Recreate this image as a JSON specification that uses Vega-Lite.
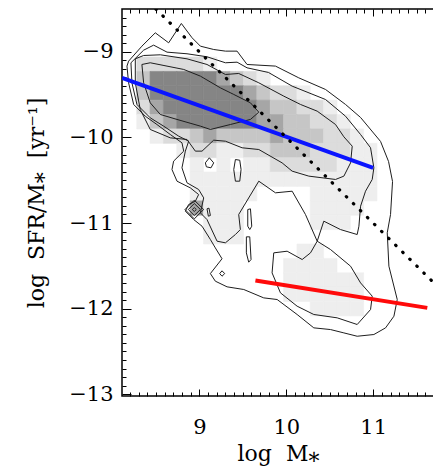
{
  "$schema": "https://vega.github.io/schema/vega-lite/v6.json",
  "width": 312,
  "height": 387,
  "autosize": {"type": "none"},
  "padding": {"left": 122, "top": 9, "right": 0, "bottom": 76},
  "background": "white",
  "config": {
    "view": {"stroke": "#000", "strokeWidth": 1.5},
    "font": "DejaVu Serif",
    "axis": {
      "grid": false, "domain": false,
      "labelFont": "DejaVu Serif", "titleFont": "DejaVu Serif",
      "labelColor": "#000", "titleColor": "#000", "tickColor": "#000",
      "titleFontWeight": "normal", "tickWidth": 1
    }
  },
  "datasets": {
    "cells": [
      {"logM":8.274,"ssfr":-9.223,"n":2},{"logM":8.427,"ssfr":-9.223,"n":2},{"logM":8.581,"ssfr":-9.223,"n":2},{"logM":8.734,"ssfr":-9.223,"n":2},{"logM":8.888,"ssfr":-9.223,"n":2},{"logM":9.042,"ssfr":-9.223,"n":1},
      {"logM":8.274,"ssfr":-9.391,"n":3},{"logM":8.427,"ssfr":-9.391,"n":5},{"logM":8.581,"ssfr":-9.391,"n":5},{"logM":8.734,"ssfr":-9.391,"n":5},{"logM":8.888,"ssfr":-9.391,"n":5},{"logM":9.042,"ssfr":-9.391,"n":5},{"logM":9.195,"ssfr":-9.391,"n":4},{"logM":9.349,"ssfr":-9.391,"n":3},{"logM":9.502,"ssfr":-9.391,"n":2},{"logM":9.656,"ssfr":-9.391,"n":1},
      {"logM":8.274,"ssfr":-9.559,"n":3},{"logM":8.427,"ssfr":-9.559,"n":5},{"logM":8.581,"ssfr":-9.559,"n":5},{"logM":8.734,"ssfr":-9.559,"n":5},{"logM":8.888,"ssfr":-9.559,"n":5},{"logM":9.042,"ssfr":-9.559,"n":5},{"logM":9.195,"ssfr":-9.559,"n":5},{"logM":9.349,"ssfr":-9.559,"n":5},{"logM":9.502,"ssfr":-9.559,"n":4},{"logM":9.656,"ssfr":-9.559,"n":3},{"logM":9.81,"ssfr":-9.559,"n":2},{"logM":9.963,"ssfr":-9.559,"n":2},{"logM":10.117,"ssfr":-9.559,"n":1},
      {"logM":8.274,"ssfr":-9.727,"n":2},{"logM":8.427,"ssfr":-9.727,"n":4},{"logM":8.581,"ssfr":-9.727,"n":5},{"logM":8.734,"ssfr":-9.727,"n":5},{"logM":8.888,"ssfr":-9.727,"n":5},{"logM":9.042,"ssfr":-9.727,"n":5},{"logM":9.195,"ssfr":-9.727,"n":5},{"logM":9.349,"ssfr":-9.727,"n":5},{"logM":9.502,"ssfr":-9.727,"n":5},{"logM":9.656,"ssfr":-9.727,"n":4},{"logM":9.81,"ssfr":-9.727,"n":3},{"logM":9.963,"ssfr":-9.727,"n":3},{"logM":10.117,"ssfr":-9.727,"n":2},{"logM":10.27,"ssfr":-9.727,"n":2},{"logM":10.424,"ssfr":-9.727,"n":1},
      {"logM":8.274,"ssfr":-9.895,"n":1},{"logM":8.427,"ssfr":-9.895,"n":3},{"logM":8.581,"ssfr":-9.895,"n":4},{"logM":8.734,"ssfr":-9.895,"n":5},{"logM":8.888,"ssfr":-9.895,"n":5},{"logM":9.042,"ssfr":-9.895,"n":5},{"logM":9.195,"ssfr":-9.895,"n":5},{"logM":9.349,"ssfr":-9.895,"n":5},{"logM":9.502,"ssfr":-9.895,"n":5},{"logM":9.656,"ssfr":-9.895,"n":4},{"logM":9.81,"ssfr":-9.895,"n":4},{"logM":9.963,"ssfr":-9.895,"n":3},{"logM":10.117,"ssfr":-9.895,"n":3},{"logM":10.27,"ssfr":-9.895,"n":2},{"logM":10.424,"ssfr":-9.895,"n":2},{"logM":10.578,"ssfr":-9.895,"n":1},
      {"logM":8.427,"ssfr":-10.063,"n":1},{"logM":8.581,"ssfr":-10.063,"n":2},{"logM":8.734,"ssfr":-10.063,"n":2},{"logM":8.888,"ssfr":-10.063,"n":3},{"logM":9.042,"ssfr":-10.063,"n":4},{"logM":9.195,"ssfr":-10.063,"n":3},{"logM":9.349,"ssfr":-10.063,"n":3},{"logM":9.502,"ssfr":-10.063,"n":3},{"logM":9.656,"ssfr":-10.063,"n":3},{"logM":9.81,"ssfr":-10.063,"n":4},{"logM":9.963,"ssfr":-10.063,"n":3},{"logM":10.117,"ssfr":-10.063,"n":3},{"logM":10.27,"ssfr":-10.063,"n":3},{"logM":10.424,"ssfr":-10.063,"n":2},{"logM":10.578,"ssfr":-10.063,"n":2},{"logM":10.731,"ssfr":-10.063,"n":1},
      {"logM":8.734,"ssfr":-10.231,"n":1},{"logM":8.888,"ssfr":-10.231,"n":2},{"logM":9.042,"ssfr":-10.231,"n":2},{"logM":9.195,"ssfr":-10.231,"n":1},{"logM":9.349,"ssfr":-10.231,"n":1},{"logM":9.502,"ssfr":-10.231,"n":2},{"logM":9.656,"ssfr":-10.231,"n":2},{"logM":9.81,"ssfr":-10.231,"n":3},{"logM":9.963,"ssfr":-10.231,"n":3},{"logM":10.117,"ssfr":-10.231,"n":3},{"logM":10.27,"ssfr":-10.231,"n":2},{"logM":10.424,"ssfr":-10.231,"n":2},{"logM":10.578,"ssfr":-10.231,"n":2},{"logM":10.731,"ssfr":-10.231,"n":1},{"logM":10.885,"ssfr":-10.231,"n":1},
      {"logM":8.888,"ssfr":-10.399,"n":1},{"logM":9.195,"ssfr":-10.399,"n":1},{"logM":9.502,"ssfr":-10.399,"n":1},{"logM":9.656,"ssfr":-10.399,"n":1},{"logM":9.81,"ssfr":-10.399,"n":2},{"logM":9.963,"ssfr":-10.399,"n":2},{"logM":10.117,"ssfr":-10.399,"n":2},{"logM":10.27,"ssfr":-10.399,"n":2},{"logM":10.424,"ssfr":-10.399,"n":2},{"logM":10.578,"ssfr":-10.399,"n":1},{"logM":10.731,"ssfr":-10.399,"n":1},{"logM":10.885,"ssfr":-10.399,"n":1},
      {"logM":8.888,"ssfr":-10.567,"n":1},{"logM":9.042,"ssfr":-10.567,"n":1},{"logM":9.195,"ssfr":-10.567,"n":1},{"logM":9.349,"ssfr":-10.567,"n":1},{"logM":9.502,"ssfr":-10.567,"n":1},{"logM":9.656,"ssfr":-10.567,"n":1},{"logM":9.81,"ssfr":-10.567,"n":1},{"logM":9.963,"ssfr":-10.567,"n":1},{"logM":10.117,"ssfr":-10.567,"n":1},{"logM":10.27,"ssfr":-10.567,"n":1},{"logM":10.424,"ssfr":-10.567,"n":1},{"logM":10.578,"ssfr":-10.567,"n":1},{"logM":10.731,"ssfr":-10.567,"n":1},{"logM":10.885,"ssfr":-10.567,"n":1},
      {"logM":8.888,"ssfr":-10.735,"n":1},{"logM":9.042,"ssfr":-10.735,"n":1},{"logM":9.195,"ssfr":-10.735,"n":1},{"logM":9.349,"ssfr":-10.735,"n":1},{"logM":9.502,"ssfr":-10.735,"n":1},{"logM":10.27,"ssfr":-10.735,"n":1},{"logM":10.424,"ssfr":-10.735,"n":1},{"logM":10.578,"ssfr":-10.735,"n":1},{"logM":10.731,"ssfr":-10.735,"n":1},{"logM":10.885,"ssfr":-10.735,"n":1},
      {"logM":8.888,"ssfr":-10.903,"n":4},{"logM":9.042,"ssfr":-10.903,"n":1},{"logM":9.195,"ssfr":-10.903,"n":1},{"logM":9.349,"ssfr":-10.903,"n":1},{"logM":10.27,"ssfr":-10.903,"n":1},{"logM":10.424,"ssfr":-10.903,"n":1},{"logM":10.578,"ssfr":-10.903,"n":1},{"logM":10.731,"ssfr":-10.903,"n":1},
      {"logM":9.042,"ssfr":-11.071,"n":1},{"logM":9.195,"ssfr":-11.071,"n":1},{"logM":9.349,"ssfr":-11.071,"n":1},{"logM":10.27,"ssfr":-11.071,"n":1},{"logM":10.424,"ssfr":-11.071,"n":1},{"logM":10.578,"ssfr":-11.071,"n":1},
      {"logM":9.042,"ssfr":-11.239,"n":1},{"logM":9.195,"ssfr":-11.239,"n":1},{"logM":9.349,"ssfr":-11.239,"n":1},
      {"logM":10.117,"ssfr":-11.407,"n":1},{"logM":10.27,"ssfr":-11.407,"n":1},
      {"logM":9.963,"ssfr":-11.575,"n":1},{"logM":10.117,"ssfr":-11.575,"n":1},{"logM":10.27,"ssfr":-11.575,"n":1},{"logM":10.424,"ssfr":-11.575,"n":1},
      {"logM":9.963,"ssfr":-11.743,"n":1},{"logM":10.117,"ssfr":-11.743,"n":1},{"logM":10.27,"ssfr":-11.743,"n":1},{"logM":10.424,"ssfr":-11.743,"n":1},{"logM":10.578,"ssfr":-11.743,"n":1},{"logM":10.731,"ssfr":-11.743,"n":1},
      {"logM":9.963,"ssfr":-11.911,"n":1},{"logM":10.117,"ssfr":-11.911,"n":1},{"logM":10.27,"ssfr":-11.911,"n":1},{"logM":10.424,"ssfr":-11.911,"n":1},{"logM":10.578,"ssfr":-11.911,"n":1},{"logM":10.731,"ssfr":-11.911,"n":1},
      {"logM":10.27,"ssfr":-12.079,"n":1},{"logM":10.424,"ssfr":-12.079,"n":1},{"logM":10.578,"ssfr":-12.079,"n":1},{"logM":10.731,"ssfr":-12.079,"n":1}
    ],
    "contours_outer": [
      {"c":"L1","k":1,"logM":8.186,"ssfr":-9.109},{"c":"L1","k":2,"logM":8.339,"ssfr":-8.934},{"c":"L1","k":3,"logM":8.493,"ssfr":-8.778},{"c":"L1","k":4,"logM":8.647,"ssfr":-8.895},{"c":"L1","k":5,"logM":8.793,"ssfr":-8.669},{"c":"L1","k":6,"logM":8.916,"ssfr":-8.836},{"c":"L1","k":7,"logM":9.012,"ssfr":-8.934},{"c":"L1","k":8,"logM":9.165,"ssfr":-8.973},{"c":"L1","k":9,"logM":9.3,"ssfr":-8.992},{"c":"L1","k":10,"logM":9.434,"ssfr":-8.992},
      {"c":"L1","k":11,"logM":9.549,"ssfr":-9.148},{"c":"L1","k":12,"logM":9.876,"ssfr":-9.167},{"c":"L1","k":13,"logM":10.144,"ssfr":-9.304},{"c":"L1","k":14,"logM":10.452,"ssfr":-9.44},{"c":"L1","k":15,"logM":10.682,"ssfr":-9.615},{"c":"L1","k":16,"logM":10.855,"ssfr":-9.767},{"c":"L1","k":17,"logM":11.085,"ssfr":-10.047},{"c":"L1","k":18,"logM":11.177,"ssfr":-10.281},{"c":"L1","k":19,"logM":11.223,"ssfr":-10.515},{"c":"L1","k":20,"logM":11.2,"ssfr":-10.9},
      {"c":"L1","k":21,"logM":11.162,"ssfr":-11.114},{"c":"L1","k":22,"logM":11.181,"ssfr":-11.504},{"c":"L1","k":23,"logM":11.277,"ssfr":-11.893},{"c":"L1","k":24,"logM":11.239,"ssfr":-12.088},{"c":"L1","k":25,"logM":11.143,"ssfr":-12.224},{"c":"L1","k":26,"logM":11.008,"ssfr":-12.302},{"c":"L1","k":27,"logM":10.816,"ssfr":-12.322},{"c":"L1","k":28,"logM":10.663,"ssfr":-12.283},{"c":"L1","k":29,"logM":10.509,"ssfr":-12.244},{"c":"L1","k":30,"logM":10.317,"ssfr":-12.224},
      {"c":"L1","k":31,"logM":10.125,"ssfr":-12.068},{"c":"L1","k":32,"logM":9.895,"ssfr":-11.893},{"c":"L1","k":33,"logM":9.741,"ssfr":-11.874},{"c":"L1","k":34,"logM":9.511,"ssfr":-11.776},{"c":"L1","k":35,"logM":9.319,"ssfr":-11.745},{"c":"L1","k":36,"logM":9.184,"ssfr":-11.679},{"c":"L1","k":37,"logM":9.127,"ssfr":-11.59},{"c":"L1","k":38,"logM":9.261,"ssfr":-11.417},{"c":"L1","k":39,"logM":9.184,"ssfr":-11.29},{"c":"L1","k":40,"logM":9.127,"ssfr":-11.192},
      {"c":"L1","k":41,"logM":9.031,"ssfr":-11.037},{"c":"L1","k":42,"logM":8.935,"ssfr":-10.959},{"c":"L1","k":43,"logM":8.839,"ssfr":-10.861},{"c":"L1","k":44,"logM":8.877,"ssfr":-10.783},{"c":"L1","k":45,"logM":8.954,"ssfr":-10.745},{"c":"L1","k":46,"logM":8.992,"ssfr":-10.667},{"c":"L1","k":47,"logM":8.896,"ssfr":-10.589},{"c":"L1","k":48,"logM":8.743,"ssfr":-10.511},{"c":"L1","k":49,"logM":8.685,"ssfr":-10.375},{"c":"L1","k":50,"logM":8.704,"ssfr":-10.277},
      {"c":"L1","k":51,"logM":8.82,"ssfr":-10.16},{"c":"L1","k":52,"logM":8.8,"ssfr":-10.063},{"c":"L1","k":53,"logM":8.666,"ssfr":-9.966},{"c":"L1","k":54,"logM":8.512,"ssfr":-9.849},{"c":"L1","k":55,"logM":8.378,"ssfr":-9.752},{"c":"L1","k":56,"logM":8.244,"ssfr":-9.615},{"c":"L1","k":57,"logM":8.186,"ssfr":-9.362},{"c":"L1","k":58,"logM":8.167,"ssfr":-9.167},{"c":"L1","k":59,"logM":8.186,"ssfr":-9.109},
      {"c":"L2","k":1,"logM":8.213,"ssfr":-9.128},{"c":"L2","k":2,"logM":8.359,"ssfr":-8.981},{"c":"L2","k":3,"logM":8.474,"ssfr":-8.922},{"c":"L2","k":4,"logM":8.628,"ssfr":-9.004},{"c":"L2","k":5,"logM":8.858,"ssfr":-9.023},{"c":"L2","k":6,"logM":9.088,"ssfr":-9.058},{"c":"L2","k":7,"logM":9.3,"ssfr":-9.128},{"c":"L2","k":8,"logM":9.434,"ssfr":-9.121},{"c":"L2","k":9,"logM":9.549,"ssfr":-9.187},{"c":"L2","k":10,"logM":9.795,"ssfr":-9.241},
      {"c":"L2","k":11,"logM":10.068,"ssfr":-9.401},{"c":"L2","k":12,"logM":10.452,"ssfr":-9.557},{"c":"L2","k":13,"logM":10.682,"ssfr":-9.752},{"c":"L2","k":14,"logM":10.855,"ssfr":-9.966},{"c":"L2","k":15,"logM":10.97,"ssfr":-10.121},{"c":"L2","k":16,"logM":11.008,"ssfr":-10.355},{"c":"L2","k":17,"logM":10.989,"ssfr":-10.491},{"c":"L2","k":18,"logM":10.912,"ssfr":-10.628},{"c":"L2","k":19,"logM":10.855,"ssfr":-10.803},{"c":"L2","k":20,"logM":10.836,"ssfr":-11.037},
      {"c":"L2","k":21,"logM":10.816,"ssfr":-11.134},{"c":"L2","k":22,"logM":10.624,"ssfr":-11.076},{"c":"L2","k":23,"logM":10.432,"ssfr":-10.978},{"c":"L2","k":24,"logM":10.356,"ssfr":-11.212},{"c":"L2","k":25,"logM":10.279,"ssfr":-11.348},{"c":"L2","k":26,"logM":10.183,"ssfr":-11.426},{"c":"L2","k":27,"logM":10.01,"ssfr":-11.329},{"c":"L2","k":28,"logM":9.856,"ssfr":-11.348},{"c":"L2","k":29,"logM":9.837,"ssfr":-11.582},{"c":"L2","k":30,"logM":9.933,"ssfr":-11.815},
      {"c":"L2","k":31,"logM":10.125,"ssfr":-11.971},{"c":"L2","k":32,"logM":10.317,"ssfr":-12.068},{"c":"L2","k":33,"logM":10.586,"ssfr":-12.107},{"c":"L2","k":34,"logM":10.816,"ssfr":-12.185},{"c":"L2","k":35,"logM":10.97,"ssfr":-12.01},{"c":"L2","k":36,"logM":10.989,"ssfr":-11.854},{"c":"L2","k":37,"logM":10.855,"ssfr":-11.699},{"c":"L2","k":38,"logM":10.74,"ssfr":-11.504},{"c":"L2","k":39,"logM":10.509,"ssfr":-11.309},{"c":"L2","k":40,"logM":10.356,"ssfr":-11.212},
      {"c":"L2","k":41,"logM":10.221,"ssfr":-10.9},{"c":"L2","k":42,"logM":10.068,"ssfr":-10.628},{"c":"L2","k":43,"logM":9.876,"ssfr":-10.647},{"c":"L2","k":44,"logM":9.684,"ssfr":-10.511},{"c":"L2","k":45,"logM":9.453,"ssfr":-10.9},{"c":"L2","k":46,"logM":9.472,"ssfr":-11.076},{"c":"L2","k":47,"logM":9.415,"ssfr":-11.134},{"c":"L2","k":48,"logM":9.3,"ssfr":-11.231},{"c":"L2","k":49,"logM":9.204,"ssfr":-11.212},{"c":"L2","k":50,"logM":9.088,"ssfr":-10.959},
      {"c":"L2","k":51,"logM":9.012,"ssfr":-10.881},{"c":"L2","k":52,"logM":9.05,"ssfr":-10.706},{"c":"L2","k":53,"logM":8.992,"ssfr":-10.608},{"c":"L2","k":54,"logM":8.858,"ssfr":-10.53},{"c":"L2","k":55,"logM":8.8,"ssfr":-10.355},{"c":"L2","k":56,"logM":8.839,"ssfr":-10.16},{"c":"L2","k":57,"logM":8.877,"ssfr":-10.044},{"c":"L2","k":58,"logM":8.762,"ssfr":-9.985},{"c":"L2","k":59,"logM":8.589,"ssfr":-9.868},{"c":"L2","k":60,"logM":8.435,"ssfr":-9.771},
      {"c":"L2","k":61,"logM":8.282,"ssfr":-9.615},{"c":"L2","k":62,"logM":8.224,"ssfr":-9.362},{"c":"L2","k":63,"logM":8.213,"ssfr":-9.128}
    ],
    "contours_inner": [
      {"c":"L3","k":1,"logM":8.263,"ssfr":-9.082},{"c":"L3","k":2,"logM":8.359,"ssfr":-9.043},{"c":"L3","k":3,"logM":8.551,"ssfr":-9.035},{"c":"L3","k":4,"logM":8.858,"ssfr":-9.082},{"c":"L3","k":5,"logM":9.088,"ssfr":-9.148},{"c":"L3","k":6,"logM":9.3,"ssfr":-9.265},{"c":"L3","k":7,"logM":9.453,"ssfr":-9.253},{"c":"L3","k":8,"logM":9.684,"ssfr":-9.362},{"c":"L3","k":9,"logM":9.972,"ssfr":-9.518},{"c":"L3","k":10,"logM":10.164,"ssfr":-9.615},
      {"c":"L3","k":11,"logM":10.356,"ssfr":-9.693},{"c":"L3","k":12,"logM":10.567,"ssfr":-9.849},{"c":"L3","k":13,"logM":10.663,"ssfr":-9.993},{"c":"L3","k":14,"logM":10.759,"ssfr":-10.102},{"c":"L3","k":15,"logM":10.74,"ssfr":-10.297},{"c":"L3","k":16,"logM":10.663,"ssfr":-10.452},{"c":"L3","k":17,"logM":10.567,"ssfr":-10.491},{"c":"L3","k":18,"logM":10.26,"ssfr":-10.452},{"c":"L3","k":19,"logM":10.068,"ssfr":-10.394},{"c":"L3","k":20,"logM":9.952,"ssfr":-10.297},
      {"c":"L3","k":21,"logM":9.684,"ssfr":-10.141},{"c":"L3","k":22,"logM":9.492,"ssfr":-10.121},{"c":"L3","k":23,"logM":9.3,"ssfr":-10.044},{"c":"L3","k":24,"logM":9.165,"ssfr":-10.032},{"c":"L3","k":25,"logM":9.031,"ssfr":-10.16},{"c":"L3","k":26,"logM":8.954,"ssfr":-10.16},{"c":"L3","k":27,"logM":8.858,"ssfr":-10.024},{"c":"L3","k":28,"logM":8.666,"ssfr":-10.005},{"c":"L3","k":29,"logM":8.435,"ssfr":-9.907},{"c":"L3","k":30,"logM":8.32,"ssfr":-9.674},
      {"c":"L3","k":31,"logM":8.263,"ssfr":-9.362},{"c":"L3","k":32,"logM":8.263,"ssfr":-9.082},
      {"c":"L4","k":1,"logM":8.339,"ssfr":-9.148},{"c":"L4","k":2,"logM":8.435,"ssfr":-9.128},{"c":"L4","k":3,"logM":8.82,"ssfr":-9.206},{"c":"L4","k":4,"logM":9.012,"ssfr":-9.284},{"c":"L4","k":5,"logM":9.242,"ssfr":-9.421},{"c":"L4","k":6,"logM":9.396,"ssfr":-9.498},{"c":"L4","k":7,"logM":9.588,"ssfr":-9.596},{"c":"L4","k":8,"logM":9.684,"ssfr":-9.705},{"c":"L4","k":9,"logM":9.588,"ssfr":-9.79},{"c":"L4","k":10,"logM":9.357,"ssfr":-9.849},
      {"c":"L4","k":11,"logM":9.127,"ssfr":-9.907},{"c":"L4","k":12,"logM":9.012,"ssfr":-9.868},{"c":"L4","k":13,"logM":8.743,"ssfr":-9.79},{"c":"L4","k":14,"logM":8.551,"ssfr":-9.732},{"c":"L4","k":15,"logM":8.435,"ssfr":-9.596},{"c":"L4","k":16,"logM":8.359,"ssfr":-9.362},{"c":"L4","k":17,"logM":8.339,"ssfr":-9.148},
      {"c":"hA","k":1,"logM":9.069,"ssfr":-10.297},{"c":"hA","k":2,"logM":9.115,"ssfr":-10.238},{"c":"hA","k":3,"logM":9.165,"ssfr":-10.297},{"c":"hA","k":4,"logM":9.134,"ssfr":-10.355},{"c":"hA","k":5,"logM":9.081,"ssfr":-10.343},{"c":"hA","k":6,"logM":9.069,"ssfr":-10.297},
      {"c":"hB","k":1,"logM":9.415,"ssfr":-10.258},{"c":"hB","k":2,"logM":9.465,"ssfr":-10.266},{"c":"hB","k":3,"logM":9.48,"ssfr":-10.375},{"c":"hB","k":4,"logM":9.465,"ssfr":-10.511},{"c":"hB","k":5,"logM":9.415,"ssfr":-10.511},{"c":"hB","k":6,"logM":9.396,"ssfr":-10.375},{"c":"hB","k":7,"logM":9.415,"ssfr":-10.258},
      {"c":"hC","k":1,"logM":9.557,"ssfr":-10.842},{"c":"hC","k":2,"logM":9.588,"ssfr":-10.834},{"c":"hC","k":3,"logM":9.603,"ssfr":-11.037},{"c":"hC","k":4,"logM":9.58,"ssfr":-11.076},{"c":"hC","k":5,"logM":9.557,"ssfr":-11.037},{"c":"hC","k":6,"logM":9.557,"ssfr":-10.842},
      {"c":"hD","k":1,"logM":9.541,"ssfr":-11.161},{"c":"hD","k":2,"logM":9.58,"ssfr":-11.161},{"c":"hD","k":3,"logM":9.595,"ssfr":-11.426},{"c":"hD","k":4,"logM":9.568,"ssfr":-11.457},{"c":"hD","k":5,"logM":9.541,"ssfr":-11.348},{"c":"hD","k":6,"logM":9.541,"ssfr":-11.161},
      {"c":"hE","k":1,"logM":9.234,"ssfr":-11.59},{"c":"hE","k":2,"logM":9.261,"ssfr":-11.558},{"c":"hE","k":3,"logM":9.292,"ssfr":-11.59},{"c":"hE","k":4,"logM":9.261,"ssfr":-11.621},{"c":"hE","k":5,"logM":9.234,"ssfr":-11.59},
      {"c":"hF","k":1,"logM":9.088,"ssfr":-10.834},{"c":"hF","k":2,"logM":9.111,"ssfr":-10.826},{"c":"hF","k":3,"logM":9.127,"ssfr":-10.912},{"c":"hF","k":4,"logM":9.104,"ssfr":-10.92},{"c":"hF","k":5,"logM":9.088,"ssfr":-10.834},
      {"c":"pk1","k":1,"logM":8.835,"ssfr":-10.842},{"c":"pk1","k":2,"logM":8.942,"ssfr":-10.733},{"c":"pk1","k":3,"logM":9.05,"ssfr":-10.842},{"c":"pk1","k":4,"logM":8.942,"ssfr":-10.951},{"c":"pk1","k":5,"logM":8.835,"ssfr":-10.842},
      {"c":"pk2","k":1,"logM":8.873,"ssfr":-10.842},{"c":"pk2","k":2,"logM":8.942,"ssfr":-10.772},{"c":"pk2","k":3,"logM":9.012,"ssfr":-10.842},{"c":"pk2","k":4,"logM":8.942,"ssfr":-10.912},{"c":"pk2","k":5,"logM":8.873,"ssfr":-10.842},
      {"c":"pk3","k":1,"logM":8.919,"ssfr":-10.842},{"c":"pk3","k":2,"logM":8.942,"ssfr":-10.819},{"c":"pk3","k":3,"logM":8.965,"ssfr":-10.842},{"c":"pk3","k":4,"logM":8.942,"ssfr":-10.865},{"c":"pk3","k":5,"logM":8.919,"ssfr":-10.842}
    ],
    "sf_fit": [{"logM":8.11,"ssfr":-9.304},{"logM":11.0,"ssfr":-10.355}],
    "q_fit": [{"logM":9.645,"ssfr":-11.671},{"logM":11.623,"ssfr":-11.991}],
    "const_sfr": [{"logM":8.5,"ssfr":-8.5},{"logM":11.68,"ssfr":-11.68}]
  },
  "resolve": {"axis": {"x": "independent", "y": "independent"}},
  "layer": [
    {
      "data": {"name": "cells"},
      "mark": {"type": "rect", "clip": true, "strokeWidth": 0.6},
      "encoding": {
        "x": {"field": "logM", "type": "quantitative", "bin": {"binned": true, "step": 0.1536}, "scale": {"domain": [8.11, 11.7], "nice": false, "zero": false}, "axis": null},
        "y": {"field": "ssfr", "type": "quantitative", "bin": {"binned": true, "step": 0.168}, "scale": {"domain": [-13.02, -8.5], "nice": false, "zero": false}, "axis": null},
        "color": {"field": "n", "type": "ordinal", "scale": {"domain": [1, 2, 3, 4, 5], "range": ["#eeeeee", "#dcdcdc", "#c6c6c6", "#a6a6a6", "#858585"]}, "legend": null},
        "stroke": {"field": "n", "type": "ordinal", "scale": {"domain": [1, 2, 3, 4, 5], "range": ["#eeeeee", "#dcdcdc", "#c6c6c6", "#a6a6a6", "#858585"]}, "legend": null}
      }
    },
    {
      "data": {"name": "contours_outer"},
      "mark": {"type": "line", "clip": true, "color": "#1e1e1e", "strokeWidth": 1},
      "encoding": {
        "x": {"field": "logM", "type": "quantitative", "scale": {"domain": [8.11, 11.7], "nice": false, "zero": false},
              "axis": {"orient": "bottom", "values": [9, 10, 11], "format": "d", "ticks": false, "labelFontSize": 21, "labelPadding": 20, "title": "log\u00a0 M⁎", "titleFontSize": 22, "titlePadding": 6}},
        "y": {"field": "ssfr", "type": "quantitative", "scale": {"domain": [-13.02, -8.5], "nice": false, "zero": false},
              "axis": {"orient": "left", "values": [-9, -10, -11, -12, -13], "format": "d", "ticks": false, "labelFontSize": 21, "labelPadding": 9, "title": "log\u00a0 SFR/M⁎\u00a0 [yr⁻¹]", "titleFontSize": 22, "titlePadding": 20}},
        "detail": {"field": "c"},
        "order": {"field": "k", "type": "quantitative"}
      }
    },
    {
      "data": {"name": "contours_inner"},
      "mark": {"type": "line", "clip": true, "color": "#1e1e1e", "strokeWidth": 1},
      "encoding": {
        "x": {"field": "logM", "type": "quantitative", "scale": {"domain": [8.11, 11.7], "nice": false, "zero": false},
              "axis": {"orient": "bottom", "values": [9, 10, 11], "labels": false, "tickSize": 7, "offset": -7, "title": null}},
        "y": {"field": "ssfr", "type": "quantitative", "scale": {"domain": [-13.02, -8.5], "nice": false, "zero": false},
              "axis": {"orient": "left", "values": [-9, -10, -11, -12, -13], "labels": false, "tickSize": 9, "offset": -9, "title": null}},
        "detail": {"field": "c"},
        "order": {"field": "k", "type": "quantitative"}
      }
    },
    {
      "data": {"name": "sf_fit"},
      "mark": {"type": "line", "clip": true, "color": "#0a14ff", "strokeWidth": 4},
      "encoding": {
        "x": {"field": "logM", "type": "quantitative", "scale": {"domain": [8.11, 11.7], "nice": false, "zero": false},
              "axis": {"orient": "bottom", "values": [8.2, 8.3, 8.4, 8.5, 8.6, 8.7, 8.8, 8.9, 9.1, 9.2, 9.3, 9.4, 9.5, 9.6, 9.7, 9.8, 9.9, 10.1, 10.2, 10.3, 10.4, 10.5, 10.6, 10.7, 10.8, 10.9, 11.1, 11.2, 11.3, 11.4, 11.5, 11.6], "labels": false, "tickSize": 4, "offset": -4, "title": null}},
        "y": {"field": "ssfr", "type": "quantitative", "scale": {"domain": [-13.02, -8.5], "nice": false, "zero": false},
              "axis": {"orient": "left", "values": [-8.6, -8.7, -8.8, -8.9, -9.1, -9.2, -9.3, -9.4, -9.5, -9.6, -9.7, -9.8, -9.9, -10.1, -10.2, -10.3, -10.4, -10.5, -10.6, -10.7, -10.8, -10.9, -11.1, -11.2, -11.3, -11.4, -11.5, -11.6, -11.7, -11.8, -11.9, -12.1, -12.2, -12.3, -12.4, -12.5, -12.6, -12.7, -12.8, -12.9], "labels": false, "tickSize": 4, "offset": -4, "title": null}}
      }
    },
    {
      "data": {"name": "q_fit"},
      "mark": {"type": "line", "clip": true, "color": "#ff0a0a", "strokeWidth": 4},
      "encoding": {
        "x": {"field": "logM", "type": "quantitative", "scale": {"domain": [8.11, 11.7], "nice": false, "zero": false},
              "axis": {"orient": "top", "values": [9, 10, 11], "labels": false, "tickSize": 7, "offset": -7, "title": null}},
        "y": {"field": "ssfr", "type": "quantitative", "scale": {"domain": [-13.02, -8.5], "nice": false, "zero": false}, "axis": null}
      }
    },
    {
      "data": {"name": "const_sfr"},
      "mark": {"type": "line", "clip": true, "color": "#000", "strokeWidth": 3.2, "strokeCap": "round", "strokeDash": [0.5, 9.4]},
      "encoding": {
        "x": {"field": "logM", "type": "quantitative", "scale": {"domain": [8.11, 11.7], "nice": false, "zero": false},
              "axis": {"orient": "top", "values": [8.2, 8.3, 8.4, 8.5, 8.6, 8.7, 8.8, 8.9, 9.1, 9.2, 9.3, 9.4, 9.5, 9.6, 9.7, 9.8, 9.9, 10.1, 10.2, 10.3, 10.4, 10.5, 10.6, 10.7, 10.8, 10.9, 11.1, 11.2, 11.3, 11.4, 11.5, 11.6], "labels": false, "tickSize": 4, "offset": -4, "title": null}},
        "y": {"field": "ssfr", "type": "quantitative", "scale": {"domain": [-13.02, -8.5], "nice": false, "zero": false}, "axis": null}
      }
    }
  ]
}
